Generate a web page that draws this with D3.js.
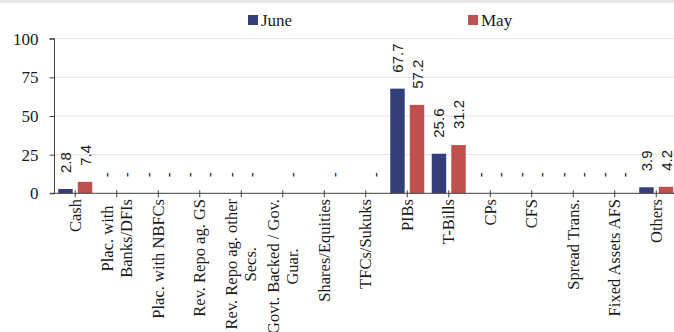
<!DOCTYPE html>
<html>
<head>
<meta charset="utf-8">
<script src="https://cdn.jsdelivr.net/npm/d3@7"></script>
<style>
  html, body { margin: 0; padding: 0; background: #fff; }
  svg { display: block; }
</style>
</head>
<body>
<svg id="chart" width="674" height="332"></svg>
<script>
// Asset categories (a "\n" breaks a tick label into two lines)
const categories = [
  "Cash",
  "Plac. with\nBanks/DFIs",
  "Plac. with NBFCs",
  "Rev. Repo ag. GS",
  "Rev. Repo ag. other\nSecs.",
  "Govt. Backed / Gov.\nGuar.",
  "Shares/Equities",
  "TFCs/Sukuks",
  "PIBs",
  "T-Bills",
  "CPs",
  "CFS",
  "Spread Trans.",
  "Fixed Assets AFS",
  "Others"
];
const seriesNames = ["June", "May"];
// null = no entry, 0 = reported as "-"
const juneValues = [2.8, 0, 0, 0, 0, null, null, null, 67.7, 25.6, 0, 0, 0, 0, 3.9];
const mayValues  = [7.4, 0, 0, 0, 0, 0, 0, 0, 57.2, 31.2, 0, 0, 0, 0, 4.2];
const yTicks = [0, 25, 50, 75, 100];

const colors = { June: "#343e7b", May: "#c0504d" };
const serif = "'Liberation Serif', 'Times New Roman', serif";
const sans = "'Liberation Sans', Arial, sans-serif";

const svg = d3.select("#chart");
const W = 674, H = 332;

// top strip
svg.append("rect").attr("x", 0).attr("y", 0).attr("width", W).attr("height", 3).attr("fill", "#e6e6e6");

const plotLeft = 54.5, plotTop = 38.7, plotBottom = 193.3;
const step = 41.5;

const x0 = d3.scaleBand().domain(categories).range([plotLeft, plotLeft + step * categories.length]).padding(0);
const x1 = d3.scaleBand().domain(seriesNames).range([-17, 17]).paddingInner(0.26);
const y = d3.scaleLinear().domain([0, 100]).range([plotBottom, plotTop]);

// gridlines
svg.append("g").selectAll("line").data(yTicks.filter(t => t > 0)).join("line")
  .attr("x1", plotLeft).attr("x2", W)
  .attr("y1", d => y(d)).attr("y2", d => y(d))
  .attr("stroke", "#e2e2ea").attr("stroke-width", 1);

// y axis
const yAxis = svg.append("g").attr("transform", `translate(${plotLeft},0)`)
  .call(d3.axisLeft(y).tickValues(yTicks).tickSize(5).tickPadding(11));
yAxis.select(".domain").attr("stroke", "#404040").attr("d", `M-5,${y(100)}H0V${y(0)}`);
yAxis.selectAll(".tick line").attr("stroke", "#404040");
yAxis.selectAll(".tick text").attr("font-family", serif).attr("font-size", 17).attr("fill", "#1a1a1a");

// bars
const rows = categories.map((c, i) => ({ cat: c, vals: [
  { key: "June", v: juneValues[i] },
  { key: "May", v: mayValues[i] }
]}));

const groups = svg.append("g").selectAll("g").data(rows).join("g")
  .attr("transform", d => `translate(${x0(d.cat) + x0.bandwidth() / 2},0)`);

groups.selectAll("rect").data(d => d.vals.filter(e => e.v !== null && e.v > 0)).join("rect")
  .attr("x", d => x1(d.key))
  .attr("width", x1.bandwidth())
  .attr("y", d => y(d.v))
  .attr("height", d => y(0) - y(d.v))
  .attr("fill", d => colors[d.key]);

// value labels (rotated)
groups.selectAll("text").data(d => d.vals.filter(e => e.v !== null)).join("text")
  .attr("transform", d => `translate(${x1(d.key) + x1.bandwidth() / 2},${y(d.v) - 16}) rotate(-90)`)
  .attr("text-anchor", "start")
  .attr("dominant-baseline", "central")
  .attr("font-family", sans).attr("font-size", 15).attr("fill", "#1a1a1a")
  .text(d => d.v === 0 ? "-" : d.v.toFixed(1));

// x axis line and ticks
const xAxis = svg.append("g");
xAxis.append("line").attr("x1", 50).attr("x2", W).attr("y1", y(0)).attr("y2", y(0)).attr("stroke", "#404040");
xAxis.selectAll("line.tk").data(categories).join("line").attr("class", "tk")
  .attr("x1", d => x0(d) + x0.bandwidth() / 2).attr("x2", d => x0(d) + x0.bandwidth() / 2)
  .attr("y1", y(0) - 3).attr("y2", y(0) + 4)
  .attr("stroke", "#404040");

// category labels (rotated, multi-line blocks centred)
const labelTop = 199;
const lineGap = 19;
categories.forEach(cat => {
  const lines = cat.split("\n");
  const cx = x0(cat) + x0.bandwidth() / 2;
  const g = svg.append("g");
  const texts = lines.map((ln, j) => g.append("text")
    .attr("font-family", serif).attr("font-size", 16.5).attr("fill", "#1a1a1a")
    .attr("dominant-baseline", "central")
    .text(ln));
  if (lines.length === 1) {
    texts[0].attr("text-anchor", "end")
      .attr("transform", `translate(${cx},${labelTop}) rotate(-90)`);
  } else {
    const maxLen = d3.max(texts, t => t.node().getComputedTextLength());
    const cy = labelTop + maxLen / 2;
    texts.forEach((t, j) => {
      const dx = (j - (lines.length - 1) / 2) * lineGap;
      t.attr("text-anchor", "middle")
        .attr("transform", `translate(${cx + dx},${cy}) rotate(-90)`);
    });
  }
});

// legend
const legendItems = [{ key: "June", x: 248 }, { key: "May", x: 468 }];
const lg = svg.append("g").selectAll("g").data(legendItems).join("g")
  .attr("transform", d => `translate(${d.x},15)`);
lg.append("rect").attr("width", 10).attr("height", 10).attr("fill", d => colors[d.key]);
lg.append("text").attr("x", 13).attr("y", 5).attr("dominant-baseline", "central")
  .attr("font-family", serif).attr("font-size", 17).attr("fill", "#1a1a1a")
  .text(d => d.key);
</script>
</body>
</html>
